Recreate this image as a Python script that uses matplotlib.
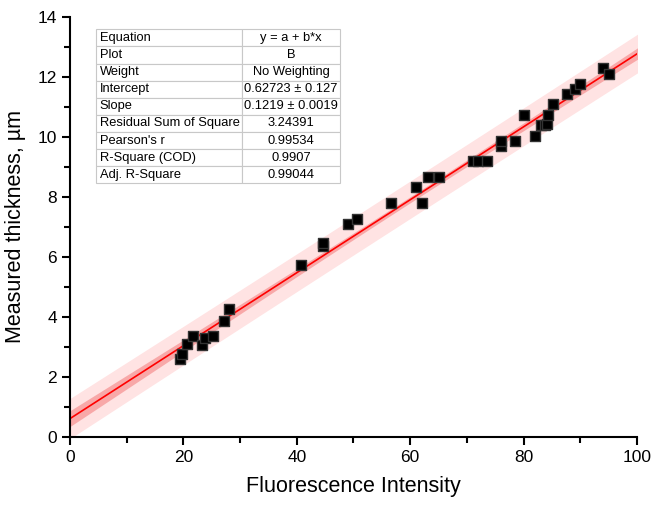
import numpy as np
import matplotlib
matplotlib.use("Agg")
import matplotlib.pyplot as plt
from matplotlib.ticker import MultipleLocator

plt.rcParams['font.family'] = ['Liberation Sans', 'DejaVu Sans']

# data
intensity = [19.4, 19.8, 20.6, 21.7, 23.3, 23.8, 25.2, 27.2, 28.0,
             40.7, 44.6, 44.6, 49.0, 50.6, 56.6, 61.0, 62.1, 63.1, 65.1,
             71.1, 72.0, 73.5, 76.0, 76.0, 78.5, 80.0, 82.0, 83.0, 83.8,
             84.1, 84.3, 85.2, 87.6, 89.0, 90.0, 94.0, 95.1]
thickness = [2.6, 2.75, 3.1, 3.38, 3.05, 3.3, 3.38, 3.88, 4.25,
             5.72, 6.35, 6.45, 7.1, 7.28, 7.8, 8.32, 7.8, 8.68, 8.68,
             9.2, 9.2, 9.2, 9.7, 9.88, 9.88, 10.75, 10.05, 10.4, 10.4,
             10.42, 10.75, 11.1, 11.45, 11.6, 11.77, 12.3, 12.12]

table_rows = [
    ["Equation", "y = a + b*x"],
    ["Plot", "B"],
    ["Weight", "No Weighting"],
    ["Intercept", "0.62723 \u00b1 0.127"],
    ["Slope", "0.1219 \u00b1 0.0019"],
    ["Residual Sum of Square", "3.24391"],
    ["Pearson's r", "0.99534"],
    ["R-Square (COD)", "0.9907"],
    ["Adj. R-Square", "0.99044"],
]

x = np.array(intensity)
y = np.array(thickness)
n = len(x)
b, a = np.polyfit(x, y, 1)
resid = y - (a + b * x)
s = np.sqrt(np.sum(resid ** 2) / (n - 2))
t = 2.026
xx = np.linspace(-1, 102, 200)
yy = a + b * xx
sxx = np.sum((x - x.mean()) ** 2)
conf = t * s * np.sqrt(1 / n + (xx - x.mean()) ** 2 / sxx)
pred = t * s * np.sqrt(1 + 1 / n + (xx - x.mean()) ** 2 / sxx)

fig = plt.figure(figsize=(6.54, 5.05), dpi=100)
ax = fig.add_axes([0.107, 0.135, 0.867, 0.831])

ax.fill_between(xx, yy - pred, yy + pred, color='#ffe3e3', lw=0)
ax.fill_between(xx, yy - conf, yy + conf, color='#f8a8a8', lw=0)
ax.plot(xx, yy, color='red', lw=1.2)
ax.scatter(x, y, marker='s', s=58, color='black', edgecolor='#333333', zorder=3)

ax.set_xlim(0, 100)
ax.set_ylim(0, 14)
ax.xaxis.set_major_locator(MultipleLocator(20))
ax.xaxis.set_minor_locator(MultipleLocator(10))
ax.yaxis.set_major_locator(MultipleLocator(2))
ax.yaxis.set_minor_locator(MultipleLocator(1))
ax.spines['top'].set_visible(False)
ax.spines['right'].set_visible(False)
ax.spines['left'].set_linewidth(1.5)
ax.spines['bottom'].set_linewidth(1.5)
ax.tick_params(which='major', direction='out', length=6, width=1.5, labelsize=12.5)
ax.tick_params(which='minor', direction='out', length=4, width=1.5)
ax.set_xlabel('Fluorescence Intensity', fontsize=15.5, labelpad=8)
ax.set_ylabel('Measured thickness, \u00b5m', fontsize=15.5, labelpad=8)

tbl = ax.table(cellText=table_rows, bbox=[0.046, 0.604, 0.43, 0.367],
               colWidths=[0.6, 0.4], cellLoc='left')
tbl.auto_set_font_size(False)
tbl.set_fontsize(9.3)
for (r, c), cell in tbl.get_celld().items():
    cell.set_edgecolor('#c8c8c8')
    cell.set_linewidth(0.8)
    cell.set_facecolor('white')
    cell.PAD = 0.025
    if c == 1:
        cell.get_text().set_ha('center')
        cell._loc = 'center'

fig.savefig('out.png', dpi=100)
